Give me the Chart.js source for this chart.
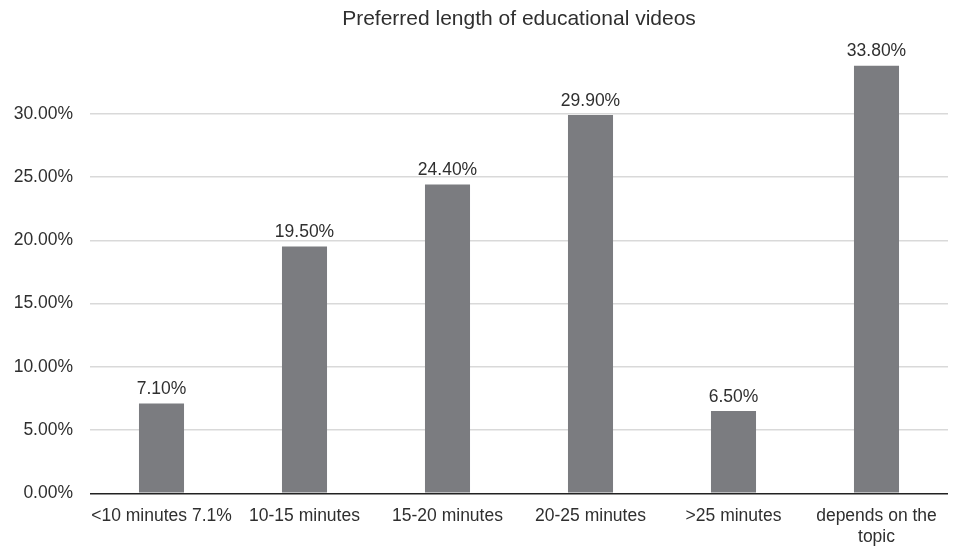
<!DOCTYPE html>
<html>
<head>
<meta charset="utf-8">
<script src="https://cdn.jsdelivr.net/npm/chart.js@4/dist/chart.umd.min.js"></script>
<style>
  html, body { margin: 0; padding: 0; background: #fff; }
  #wrap { width: 953px; height: 548px; position: relative; }
</style>
</head>
<body>
<div id="wrap"><canvas id="c" width="953" height="548"></canvas></div>
<script>
const chartTitle = 'Preferred length of educational videos';
const categories = ['<10 minutes 7.1%', '10-15 minutes', '15-20 minutes', '20-25 minutes', '>25 minutes', ['depends on the', 'topic']];
const percentValues = [7.1, 19.5, 24.4, 29.9, 6.5, 33.8];
const yTickValues = [0, 5, 10, 15, 20, 25, 30];

const FONT = '"Liberation Sans", Arial, Helvetica, sans-serif';
const TEXT = '#2f2f2f';

const titlePlugin = {
  id: 'topTitle',
  afterDraw(chart) {
    const ctx = chart.ctx, a = chart.chartArea;
    ctx.save();
    ctx.font = '21px ' + FONT;
    ctx.fillStyle = TEXT;
    ctx.textAlign = 'center';
    ctx.textBaseline = 'middle';
    ctx.fillText(chartTitle, (a.left + a.right) / 2, 19);
    ctx.restore();
  }
};

const valueLabels = {
  id: 'valueLabels',
  afterDatasetsDraw(chart) {
    const ctx = chart.ctx;
    const meta = chart.getDatasetMeta(0);
    ctx.save();
    ctx.font = '17.5px ' + FONT;
    ctx.fillStyle = TEXT;
    ctx.textAlign = 'center';
    ctx.textBaseline = 'alphabetic';
    meta.data.forEach((bar, i) => {
      ctx.fillText(percentValues[i].toFixed(2) + '%', bar.x, bar.y - 9.5);
    });
    ctx.restore();
  }
};

new Chart(document.getElementById('c'), {
  type: 'bar',
  data: {
    labels: categories,
    datasets: [{
      data: percentValues,
      backgroundColor: '#7b7c80',
      borderWidth: 0,
      barPercentage: 0.315,
      categoryPercentage: 1.0
    }]
  },
  options: {
    responsive: false,
    animation: false,
    devicePixelRatio: 1,
    layout: { padding: { top: 50.5, right: 5, bottom: 0, left: 0 } },
    plugins: {
      legend: { display: false },
      title: { display: false },
      tooltip: { enabled: false }
    },
    scales: {
      x: {
        grid: { display: false, drawTicks: false },
        border: { display: false },
        ticks: {
          color: TEXT,
          font: { family: FONT, size: 17.5 },
          padding: 12,
          maxRotation: 0,
          autoSkip: false
        },
        afterFit(scale) { scale.height = 548 - 493.3; }
      },
      y: {
        min: 0,
        max: 35,
        afterBuildTicks(scale) {
          scale.ticks = yTickValues.map(v => ({ value: v }));
        },
        afterFit(scale) { scale.width = 90; },
        grid: {
          drawTicks: false,
          color: ctx => ctx.tick && ctx.tick.value === 0 ? '#222222' : '#d9d9d9',
          lineWidth: ctx => ctx.tick && ctx.tick.value === 0 ? 1.6 : 1.4
        },
        border: { display: false },
        ticks: {
          color: TEXT,
          font: { family: FONT, size: 17.5 },
          padding: 17,
          callback: v => Number(v).toFixed(2) + '%'
        }
      }
    }
  },
  plugins: [titlePlugin, valueLabels]
});
</script>
</body>
</html>
